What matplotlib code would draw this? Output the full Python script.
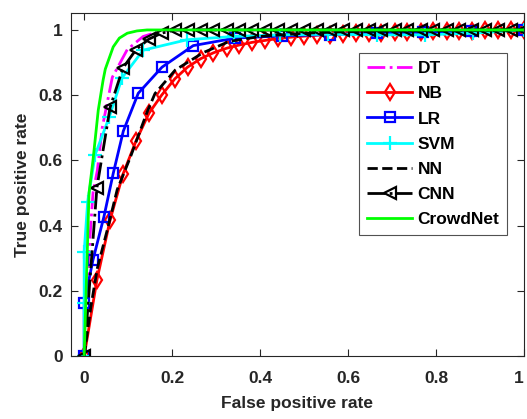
import numpy as np
import matplotlib.pyplot as plt
from matplotlib.ticker import FuncFormatter

plt.rcParams["font.family"] = ["Liberation Sans", "DejaVu Sans"]
plt.rcParams["font.weight"] = "bold"

# shared FPR grid for the marker curves (NB, CNN)
grid_fpr = [0.000, 0.029, 0.059, 0.088, 0.118, 0.147, 0.176, 0.206, 0.235, 0.265,
            0.294, 0.324, 0.353, 0.382, 0.412, 0.441, 0.471, 0.500, 0.529, 0.559,
            0.588, 0.618, 0.647, 0.676, 0.706, 0.735, 0.765, 0.794, 0.824, 0.853,
            0.882, 0.912, 0.941, 0.971, 1.000]

nb_tpr = [0.000, 0.234, 0.418, 0.557, 0.660, 0.744, 0.800, 0.850, 0.886, 0.912,
          0.930, 0.944, 0.954, 0.962, 0.968, 0.974, 0.978, 0.981, 0.984, 0.986,
          0.988, 0.990, 0.991, 0.992, 0.993, 0.994, 0.995, 0.996, 0.997, 0.998,
          0.998, 0.999, 0.999, 1.000, 1.000]

cnn_tpr = [0.000, 0.517, 0.763, 0.883, 0.940, 0.972, 0.990, 1.000, 1.000, 1.000,
           1.000, 1.000, 1.000, 1.000, 1.000, 1.000, 1.000, 1.000, 1.000, 1.000,
           1.000, 1.000, 1.000, 1.000, 1.000, 1.000, 1.000, 1.000, 1.000, 1.000,
           1.000, 1.000, 1.000, 1.000, 1.000]

dt_fpr = [0.0, 0.01, 0.02, 0.03, 0.041, 0.064, 0.098, 0.134, 0.17, 0.2, 1.0]
dt_tpr = [0.0, 0.30, 0.50, 0.57, 0.70, 0.855, 0.94, 0.98, 0.995, 1.0, 1.0]

lr_fpr = [0.0, 0.0, 0.02, 0.045, 0.066, 0.089, 0.123, 0.177, 0.248, 0.343,
          0.45, 0.56, 0.665, 0.77, 0.88, 1.0]
lr_tpr = [0.0, 0.163, 0.295, 0.428, 0.56, 0.69, 0.806, 0.886, 0.952, 0.975,
          0.982, 0.986, 0.99, 0.993, 0.996, 1.0]

svm_fpr = [0.0, 0.0, 0.0, 0.008, 0.025, 0.057, 0.086, 0.134, 0.234, 0.34,
           0.445, 0.555, 0.665, 0.775, 0.885, 1.0]
svm_tpr = [0.0, 0.163, 0.32, 0.474, 0.618, 0.733, 0.853, 0.938, 0.970, 0.980,
           0.985, 0.987, 0.985, 0.985, 0.99, 1.0]

nn_fpr = [0.0, 0.015, 0.03, 0.055, 0.075, 0.105, 0.143, 0.161, 0.207, 0.27,
          0.33, 0.4, 0.5, 0.6, 0.8, 1.0]
nn_tpr = [0.0, 0.15, 0.27, 0.40, 0.51, 0.61, 0.748, 0.805, 0.877, 0.93,
          0.965, 0.98, 0.99, 0.995, 0.998, 1.0]

crowd_fpr = [0.0, 0.011, 0.02, 0.032, 0.043, 0.048, 0.066, 0.08, 0.098, 0.12, 0.143, 1.0]
crowd_tpr = [0.0, 0.50, 0.60, 0.754, 0.846, 0.88, 0.948, 0.975, 0.99, 0.997, 1.0, 1.0]

fig = plt.figure(figsize=(5.27, 4.19), dpi=100)
ax = fig.add_axes([0.1347, 0.150, 0.8596, 0.819])

lw = 2.0
ax.plot(dt_fpr, dt_tpr, color="#ff00ff", linestyle="-.", linewidth=lw, label="DT")
ax.plot(grid_fpr, nb_tpr, color="#ff0000", linestyle="-", linewidth=lw, marker="d",
        markersize=8, markerfacecolor="none", markeredgewidth=1.6, label="NB")
ax.plot(lr_fpr, lr_tpr, color="#0000ff", linestyle="-", linewidth=lw, marker="s",
        markersize=7, markerfacecolor="none", markeredgewidth=1.6, label="LR")
ax.plot(svm_fpr, svm_tpr, color="#00ffff", linestyle="-", linewidth=lw, marker="+",
        markersize=10, markeredgewidth=1.6, label="SVM")
ax.plot(nn_fpr, nn_tpr, color="black", linestyle="--", linewidth=lw, label="NN")
ax.plot(grid_fpr, cnn_tpr, color="black", linestyle="-.", linewidth=lw, marker="<",
        markersize=9, markerfacecolor="none", markeredgewidth=1.6, label="CNN")
ax.plot(crowd_fpr, crowd_tpr, color="#00ff00", linestyle="-", linewidth=lw, label="CrowdNet")

ax.set_xlim(-0.03, 1.0)
ax.set_ylim(0, 1.052)
ax.set_xticks([0, 0.2, 0.4, 0.6, 0.8, 1.0])
ax.set_yticks([0, 0.2, 0.4, 0.6, 0.8, 1.0])
fmt = FuncFormatter(lambda v, p: f"{v:g}")
ax.xaxis.set_major_formatter(fmt)
ax.yaxis.set_major_formatter(fmt)

edge = "#262626"
for s in ax.spines.values():
    s.set_color(edge)
    s.set_linewidth(0.8)
ax.tick_params(direction="in", top=True, right=True, length=5, width=0.8,
               colors=edge, labelsize=12.5)
ax.tick_params(axis="x", pad=11)
ax.tick_params(axis="y", pad=6)
for t in ax.get_xticklabels() + ax.get_yticklabels():
    t.set_fontweight("bold")
# keep the last x tick label inside the figure
ax.get_xticklabels()[-1].set_horizontalalignment("right")

ax.set_xlabel("False positive rate", fontsize=12.5, fontweight="bold", color=edge, labelpad=7)
ax.set_ylabel("True positive rate", fontsize=12.5, fontweight="bold", color=edge, labelpad=6)

leg = ax.legend(loc="upper right", bbox_to_anchor=(0.963, 0.883), fontsize=12.5,
                frameon=True, fancybox=False, handlelength=2.6, handletextpad=0.3,
                labelspacing=0.58, borderpad=0.45, borderaxespad=0)
leg.get_frame().set_edgecolor(edge)
leg.get_frame().set_linewidth(0.8)
for t in leg.get_texts():
    t.set_fontweight("bold")

fig.savefig("out.png", dpi=100)
